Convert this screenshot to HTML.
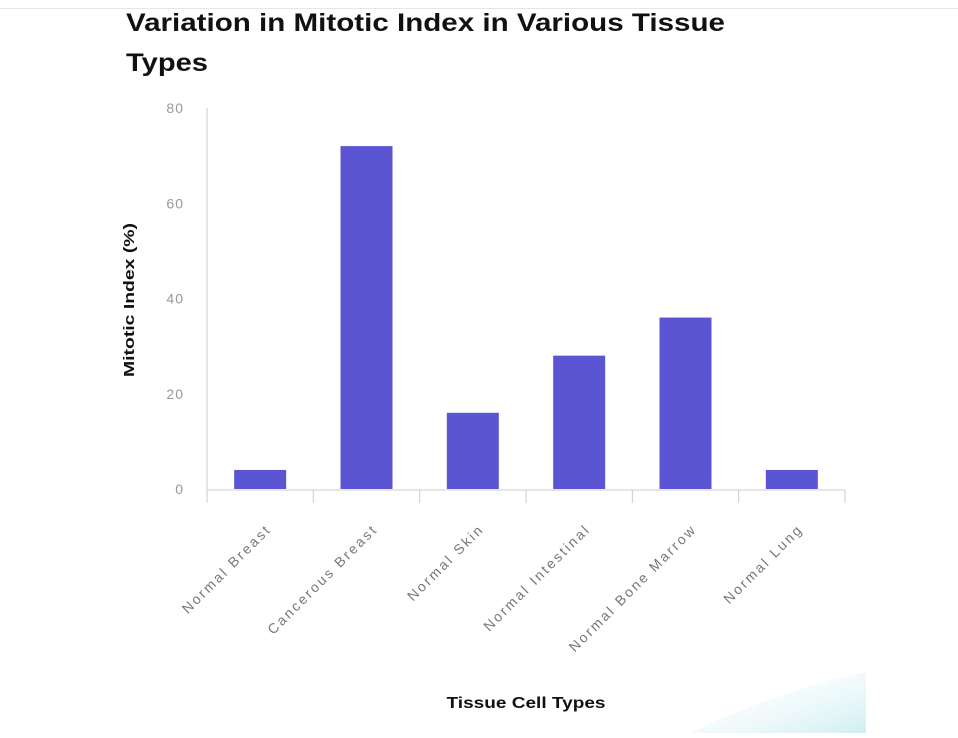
<!DOCTYPE html>
<html><head><meta charset="utf-8"><style>
body{margin:0;background:#fff;width:958px;height:733px;overflow:hidden;font-family:"Liberation Sans",sans-serif}
</style></head><body>
<svg width="958" height="733">
<defs><linearGradient id="g" x1="0" y1="0" x2="1" y2="1"><stop offset="0" stop-color="#fff" stop-opacity="0"/><stop offset="1" stop-color="#cfeef2"/></linearGradient></defs>
<line x1="0" y1="8.5" x2="958" y2="8.5" stroke="#e6e6e6"/>
<path d="M690 733 Q780 690 866 672 L866 733 Z" fill="url(#g)"/>
<text x="126" y="31" font-size="25" font-weight="bold" fill="#111" textLength="599" lengthAdjust="spacingAndGlyphs">Variation in Mitotic Index in Various Tissue</text>
<text x="126" y="71" font-size="25" font-weight="bold" fill="#111" textLength="82" lengthAdjust="spacingAndGlyphs">Types</text>
<text transform="translate(134,300) rotate(-90)" text-anchor="middle" font-size="15" font-weight="bold" fill="#111" textLength="154" lengthAdjust="spacingAndGlyphs">Mitotic Index (%)</text>
<text x="526" y="708" text-anchor="middle" font-size="16" font-weight="bold" fill="#111" textLength="159" lengthAdjust="spacingAndGlyphs">Tissue Cell Types</text>
<g id="plot"></g>
</svg>
<script>
const categories=["Normal Breast","Cancerous Breast","Normal Skin","Normal Intestinal","Normal Bone Marrow","Normal Lung"];
const values=[4,72,16,28,36,4];
const yTicks=[0,20,40,60,80];
const x0=207,x1=845,y0=489,y1=108,yMax=80;
const y=v=>y0-(v/yMax)*(y0-y1);
const band=(x1-x0)/categories.length;
const g=document.getElementById('plot');
const ns='http://www.w3.org/2000/svg';
function mk(t,a){const e=document.createElementNS(ns,t);for(const k in a)e.setAttribute(k,a[k]);g.appendChild(e);return e;}
let ax=mk('line',{x1:x0,y1:y1,x2:x0,y2:y0+1,stroke:'#ccc'});


let bx=mk('line',{x1:x0,y1:y0+1,x2:x1,y2:y0+1,stroke:'#ccc'});


yTicks.forEach(t=>{const e=mk('text',{x:184,y:y(t)+5,'text-anchor':'end','font-size':14,fill:'#999','letter-spacing':'1'});e.textContent=t;

});
for(let i=0;i<=categories.length;i++){const e=mk('line',{x1:x0+i*band,y1:y0+1,x2:x0+i*band,y2:y0+14,stroke:'#ccc'});

}
categories.forEach((c,i)=>{const cx=x0+band*(i+0.5);
const r=mk('rect',{x:cx-26,y:y(values[i]),width:52,height:y0-y(values[i]),fill:'#5b55d4'});


const tx=cx+12,ty=530;
const t=mk('text',{x:tx,y:ty,'text-anchor':'end','font-size':14,fill:'#777','letter-spacing':'2.3',transform:`rotate(-45 ${tx} ${ty})`});t.textContent=c;

});
</script>
</body></html>
